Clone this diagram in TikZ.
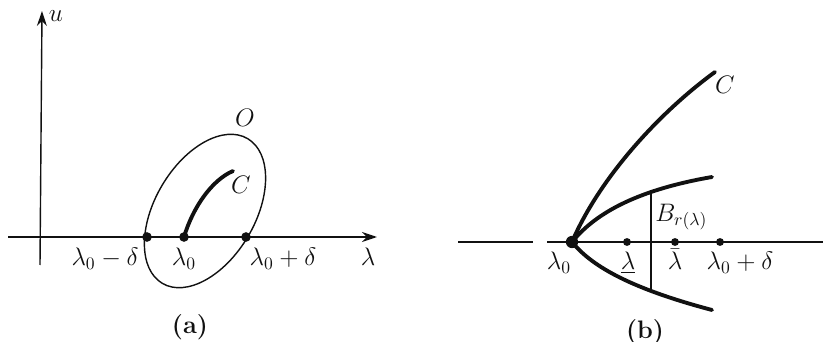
\documentclass[tikz,border=0pt]{standalone}
\usetikzlibrary{arrows.meta,intersections}
\definecolor{brink}{HTML}{111111}
\tikzset{
  br thin/.style={draw=brink, line width=0.8pt},
  br thick/.style={draw=brink, line width=2.2pt, line cap=round},
  br axis/.style={-{Stealth[length=3mm,width=2mm]}, line width=0.8pt, draw=brink},
  br dot/.style={circle, fill=brink, inner sep=0pt, minimum size=5.5pt},
  br label/.style={font=\Large, text=brink, inner sep=0pt},
  br caption/.style={font=\Large\bfseries, text=brink}
}

\begin{document}
\begin{tikzpicture}[x=0.02cm, y=0.02cm]
  \useasboundingbox (0,0) rectangle (823,342);
  % (a) axes, neighbourhood O and curve C
  \coordinate (aw) at (8,105);
  \coordinate (ae) at (377,105);
  \coordinate (as) at (40,77);
  \coordinate (an) at (42,331);
  \draw[br axis] (aw) -- (ae);
  \draw[br axis] (as) -- (an);
  \node[br label] (au) at (56,326) {$u$};
  \node[br label, anchor=base] (alam) at (368,76) {$\lambda$};
  \coordinate (oc) at (205,131);
  \draw[br thin, rotate around={59.5:(oc)}] (oc) ellipse (84 and 50);
  \node[br dot] (aminus) at (147,105) {};
  \node[br dot] (azero) at (184,105) {};
  \node[br dot] (aplus) at (246,105) {};
  \coordinate (cend) at (233,171);
  \draw[br thick] (azero.center) .. controls (193,135) and (212,162) .. (cend);
  \node[br label] (ao) at (245,224) {$O$};
  \node[br label] (ac) at (241,157) {$C$};
  \node[br label, anchor=base] (lminus) at (105,76) {$\lambda_0 - \delta$};
  \node[br label, anchor=base] (lzero) at (184,76) {$\lambda_0$};
  \node[br label, anchor=base] (lplus) at (283,76) {$\lambda_0 + \delta$};
  \node[br caption] (capa) at (190,15) {(a)};
  % (b) branches at lambda_0 and the ball
  \coordinate (bw) at (458,100);
  \coordinate (bg) at (533,100);
  \coordinate (bh) at (547,100);
  \coordinate (be) at (823,100);
  \draw[br thin] (bw) -- (bg);
  \draw[br thin] (bh) -- (be);
  \node[br dot, minimum size=7pt] (bzero) at (572,100) {};
  \node[br dot, minimum size=4.5pt] (blow) at (627,100) {};
  \node[br dot, minimum size=4.5pt] (bbar) at (675,100) {};
  \node[br dot, minimum size=4.5pt] (bplus) at (720,100) {};
  \coordinate (bcend) at (715,270);
  \coordinate (buend) at (712,165);
  \coordinate (blend) at (712,32);
  \draw[br thick] (bzero.center) .. controls (600,165) and (660,230) .. (bcend);
  \draw[br thick, name path=bup] (bzero.center) .. controls (590,122) and (625,150) .. (buend);
  \draw[br thick, name path=bdown] (bzero.center) .. controls (590,78) and (625,55) .. (blend);
  \path[name path=bvert] (651,0) -- (651,342);
  \path[name intersections={of=bup and bvert, name=bt}];
  \path[name intersections={of=bdown and bvert, name=bb}];
  \draw[br thin] (bt-1) -- (bb-1);
  \node[br label] (bc) at (725,257) {$C$};
  \node[br label, anchor=west] (bball) at (655,125) {$B_{r(\lambda)}$};
  \node[br label, anchor=base] (bl0) at (559,72) {$\lambda_0$};
  \node[br label, anchor=base] (bll) at (628,72) {$\underline{\lambda}$};
  \node[br label, anchor=base] (blb) at (675,72) {$\bar{\lambda}$};
  \node[br label, anchor=base] (blp) at (740,72) {$\lambda_0 + \delta$};
  \node[br caption] (capb) at (645,10) {(b)};
\end{tikzpicture}
\end{document}
